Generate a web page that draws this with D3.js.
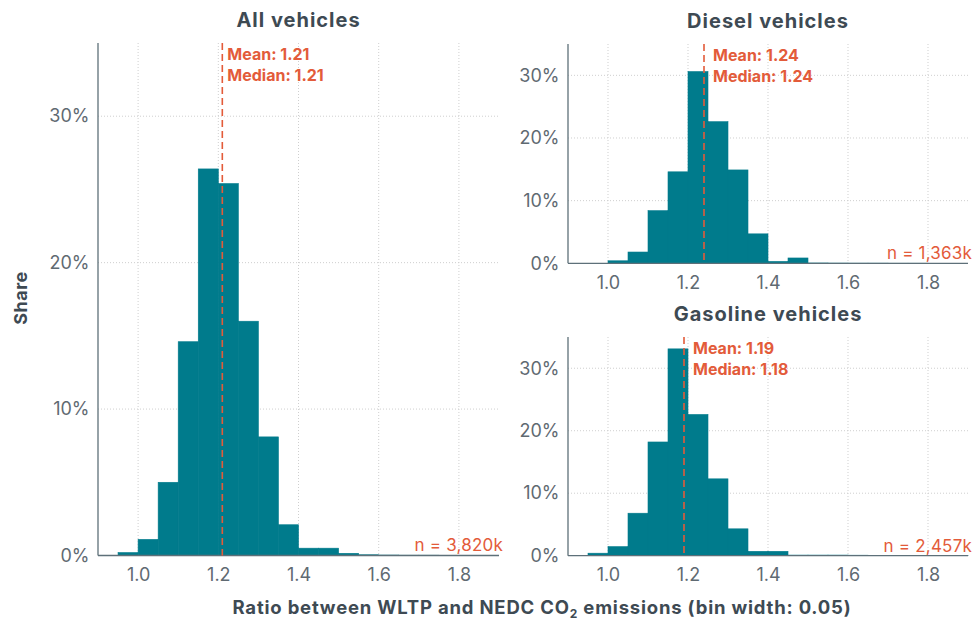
<!DOCTYPE html>
<html>
<head>
<meta charset="utf-8">
<script src="https://cdn.jsdelivr.net/npm/d3@7/dist/d3.min.js"></script>
<style>
  html, body { margin: 0; padding: 0; background: #ffffff; }
  svg { display: block; font-family: "Inter", "Open Sans", sans-serif; }
</style>
</head>
<body>
<svg id="chart" width="976" height="620"></svg>
<script>
// ---- Data ----
const binStarts = [0.95, 1.00, 1.05, 1.10, 1.15, 1.20, 1.25, 1.30, 1.35, 1.40,
                   1.45, 1.50, 1.55, 1.60, 1.65, 1.70, 1.75, 1.80, 1.85];
const binWidth = 0.05;
const panelTitles = ["All vehicles", "Diesel vehicles", "Gasoline vehicles"];
// share (%) per bin
const allShares      = [0.2, 1.1, 5.0, 14.6, 26.4, 25.4, 16.0, 8.1, 2.1, 0.5,
                        0.5, 0.15, 0.05, 0.03, 0.02, 0.02, 0.01, 0.01, 0];
const dieselShares   = [0, 0.4, 1.8, 8.4, 14.6, 30.6, 22.6, 14.9, 4.7, 0.3,
                        0.85, 0.05, 0.03, 0.02, 0.02, 0.01, 0.01, 0, 0];
const gasolineShares = [0.4, 1.45, 6.8, 18.2, 33.1, 22.6, 12.3, 4.3, 0.7, 0.7,
                        0.1, 0.1, 0.1, 0.08, 0, 0, 0, 0, 0.05];
const means   = [1.21, 1.24, 1.19];
const medians = [1.21, 1.24, 1.18];
const counts  = ["3,820k", "1,363k", "2,457k"];
const xTicks = [1.0, 1.2, 1.4, 1.6, 1.8];
const yTicks = [0, 0.10, 0.20, 0.30];
const xTitle = "Ratio between WLTP and NEDC CO";
const xTitleSub = "2";
const xTitleTail = " emissions (bin width: 0.05)";
const yTitle = "Share";

// ---- Styles ----
const teal = "#007B8C";
const orange = "#E35B3A";
const titleColor = "#3E4A53";
const tickColor = "#5F6A72";
const axisColor = "#5E7079";
const gridColor = "#CFCFCF";

const seriesList = [allShares, dieselShares, gasolineShares];
const panels = [
  { x0: 98,  x1: 499, yTop: 43,  yBot: 555.5, labelOff: 5 },
  { x0: 568, x1: 968, yTop: 44,  yBot: 263.3, labelOff: 9 },
  { x0: 568, x1: 968, yTop: 337, yBot: 555.7, labelOff: 9 }
];

const svg = d3.select("#chart");

panels.forEach((p, i) => {
  const x = d3.scaleLinear().domain([0.9, 1.9]).range([p.x0, p.x1]);
  const y = d3.scaleLinear().domain([0, 0.35]).range([p.yBot, p.yTop]);
  const g = svg.append("g");

  // grid lines
  g.append("g").selectAll("line").data(xTicks).join("line")
    .attr("x1", d => x(d)).attr("x2", d => x(d))
    .attr("y1", p.yTop).attr("y2", p.yBot)
    .attr("stroke", gridColor).attr("stroke-width", 1)
    .attr("stroke-dasharray", "1,2");
  g.append("g").selectAll("line").data(yTicks.slice(1)).join("line")
    .attr("x1", p.x0).attr("x2", p.x1)
    .attr("y1", d => y(d)).attr("y2", d => y(d))
    .attr("stroke", gridColor).attr("stroke-width", 1)
    .attr("stroke-dasharray", "1,2");

  // bars
  const data = binStarts.map((b, k) => ({ b, v: seriesList[i][k] / 100 }));
  g.append("g").selectAll("rect").data(data.filter(d => d.v > 0)).join("rect")
    .attr("x", d => x(d.b))
    .attr("width", d => x(d.b + binWidth) - x(d.b))
    .attr("y", d => y(d.v))
    .attr("height", d => y(0) - y(d.v))
    .attr("fill", teal).attr("stroke", teal).attr("stroke-width", 0.6);

  // axes
  const xAxis = d3.axisBottom(x).tickValues(xTicks).tickFormat(d3.format(".1f")).tickSize(0).tickPadding(12.5);
  const gx = g.append("g").attr("transform", `translate(0,${p.yBot})`).call(xAxis);
  gx.select(".domain").remove();
  gx.selectAll("text").attr("fill", tickColor).style("font-size", "18px")
    .style("font-family", "Inter, sans-serif");

  const yAxis = d3.axisLeft(y).tickValues(yTicks).tickFormat(d3.format(".0%")).tickSize(0).tickPadding(8.5);
  const gy = g.append("g").attr("transform", `translate(${p.x0},0)`).call(yAxis);
  gy.select(".domain").remove();
  gy.selectAll("text").attr("fill", tickColor).style("font-size", "18px")
    .style("font-family", "Inter, sans-serif");

  // axis lines
  g.append("line").attr("x1", p.x0).attr("x2", p.x0).attr("y1", p.yTop).attr("y2", p.yBot)
    .attr("stroke", axisColor).attr("stroke-width", 1.3);
  g.append("line").attr("x1", p.x0).attr("x2", p.x1).attr("y1", p.yBot).attr("y2", p.yBot)
    .attr("stroke", axisColor).attr("stroke-width", 1.3);

  // mean line
  g.append("line").attr("x1", x(means[i])).attr("x2", x(means[i]))
    .attr("y1", p.yTop).attr("y2", p.yBot)
    .attr("stroke", orange).attr("stroke-width", 1.6)
    .attr("stroke-dasharray", "7,4");

  // annotations
  const tx = x(means[i]) + p.labelOff;
  g.append("text").attr("x", tx).attr("y", p.yTop + 11).attr("dy", "0.35em")
    .attr("fill", orange).style("font-size", "16px").style("font-weight", 700)
    .text("Mean: " + d3.format(".2f")(means[i]));
  g.append("text").attr("x", tx).attr("y", p.yTop + 32).attr("dy", "0.35em")
    .attr("fill", orange).style("font-size", "16px").style("font-weight", 700)
    .text("Median: " + d3.format(".2f")(medians[i]));

  g.append("text").attr("x", p.x1 + 4).attr("y", p.yBot - 10).attr("dy", "0.35em")
    .attr("text-anchor", "end").attr("fill", orange).style("font-size", "17px")
    .style("letter-spacing", "0.2px")
    .text("n = " + counts[i]);

  // panel title
  g.append("text").attr("x", (p.x0 + p.x1) / 2).attr("y", p.yTop - 23).attr("dy", "0.35em")
    .attr("text-anchor", "middle").attr("fill", titleColor)
    .style("font-size", "20px").style("font-weight", 700).style("letter-spacing", "1px")
    .text(panelTitles[i]);
});

// axis titles
const xt = svg.append("text").attr("x", 542).attr("y", 608).attr("dy", "0.35em")
  .attr("text-anchor", "middle").attr("fill", titleColor)
  .style("font-size", "18.5px").style("font-weight", 700).style("letter-spacing", "0.8px");
xt.append("tspan").text(xTitle);
xt.append("tspan").attr("dy", "4").style("font-size", "12px").text(xTitleSub);
xt.append("tspan").attr("dy", "-4").text(xTitleTail);

svg.append("text").attr("transform", "translate(21,298) rotate(-90)").attr("dy", "0.35em")
  .attr("text-anchor", "middle").attr("fill", titleColor)
  .style("font-size", "18px").style("font-weight", 700).style("letter-spacing", "0.5px")
  .text(yTitle);
</script>
</body>
</html>
